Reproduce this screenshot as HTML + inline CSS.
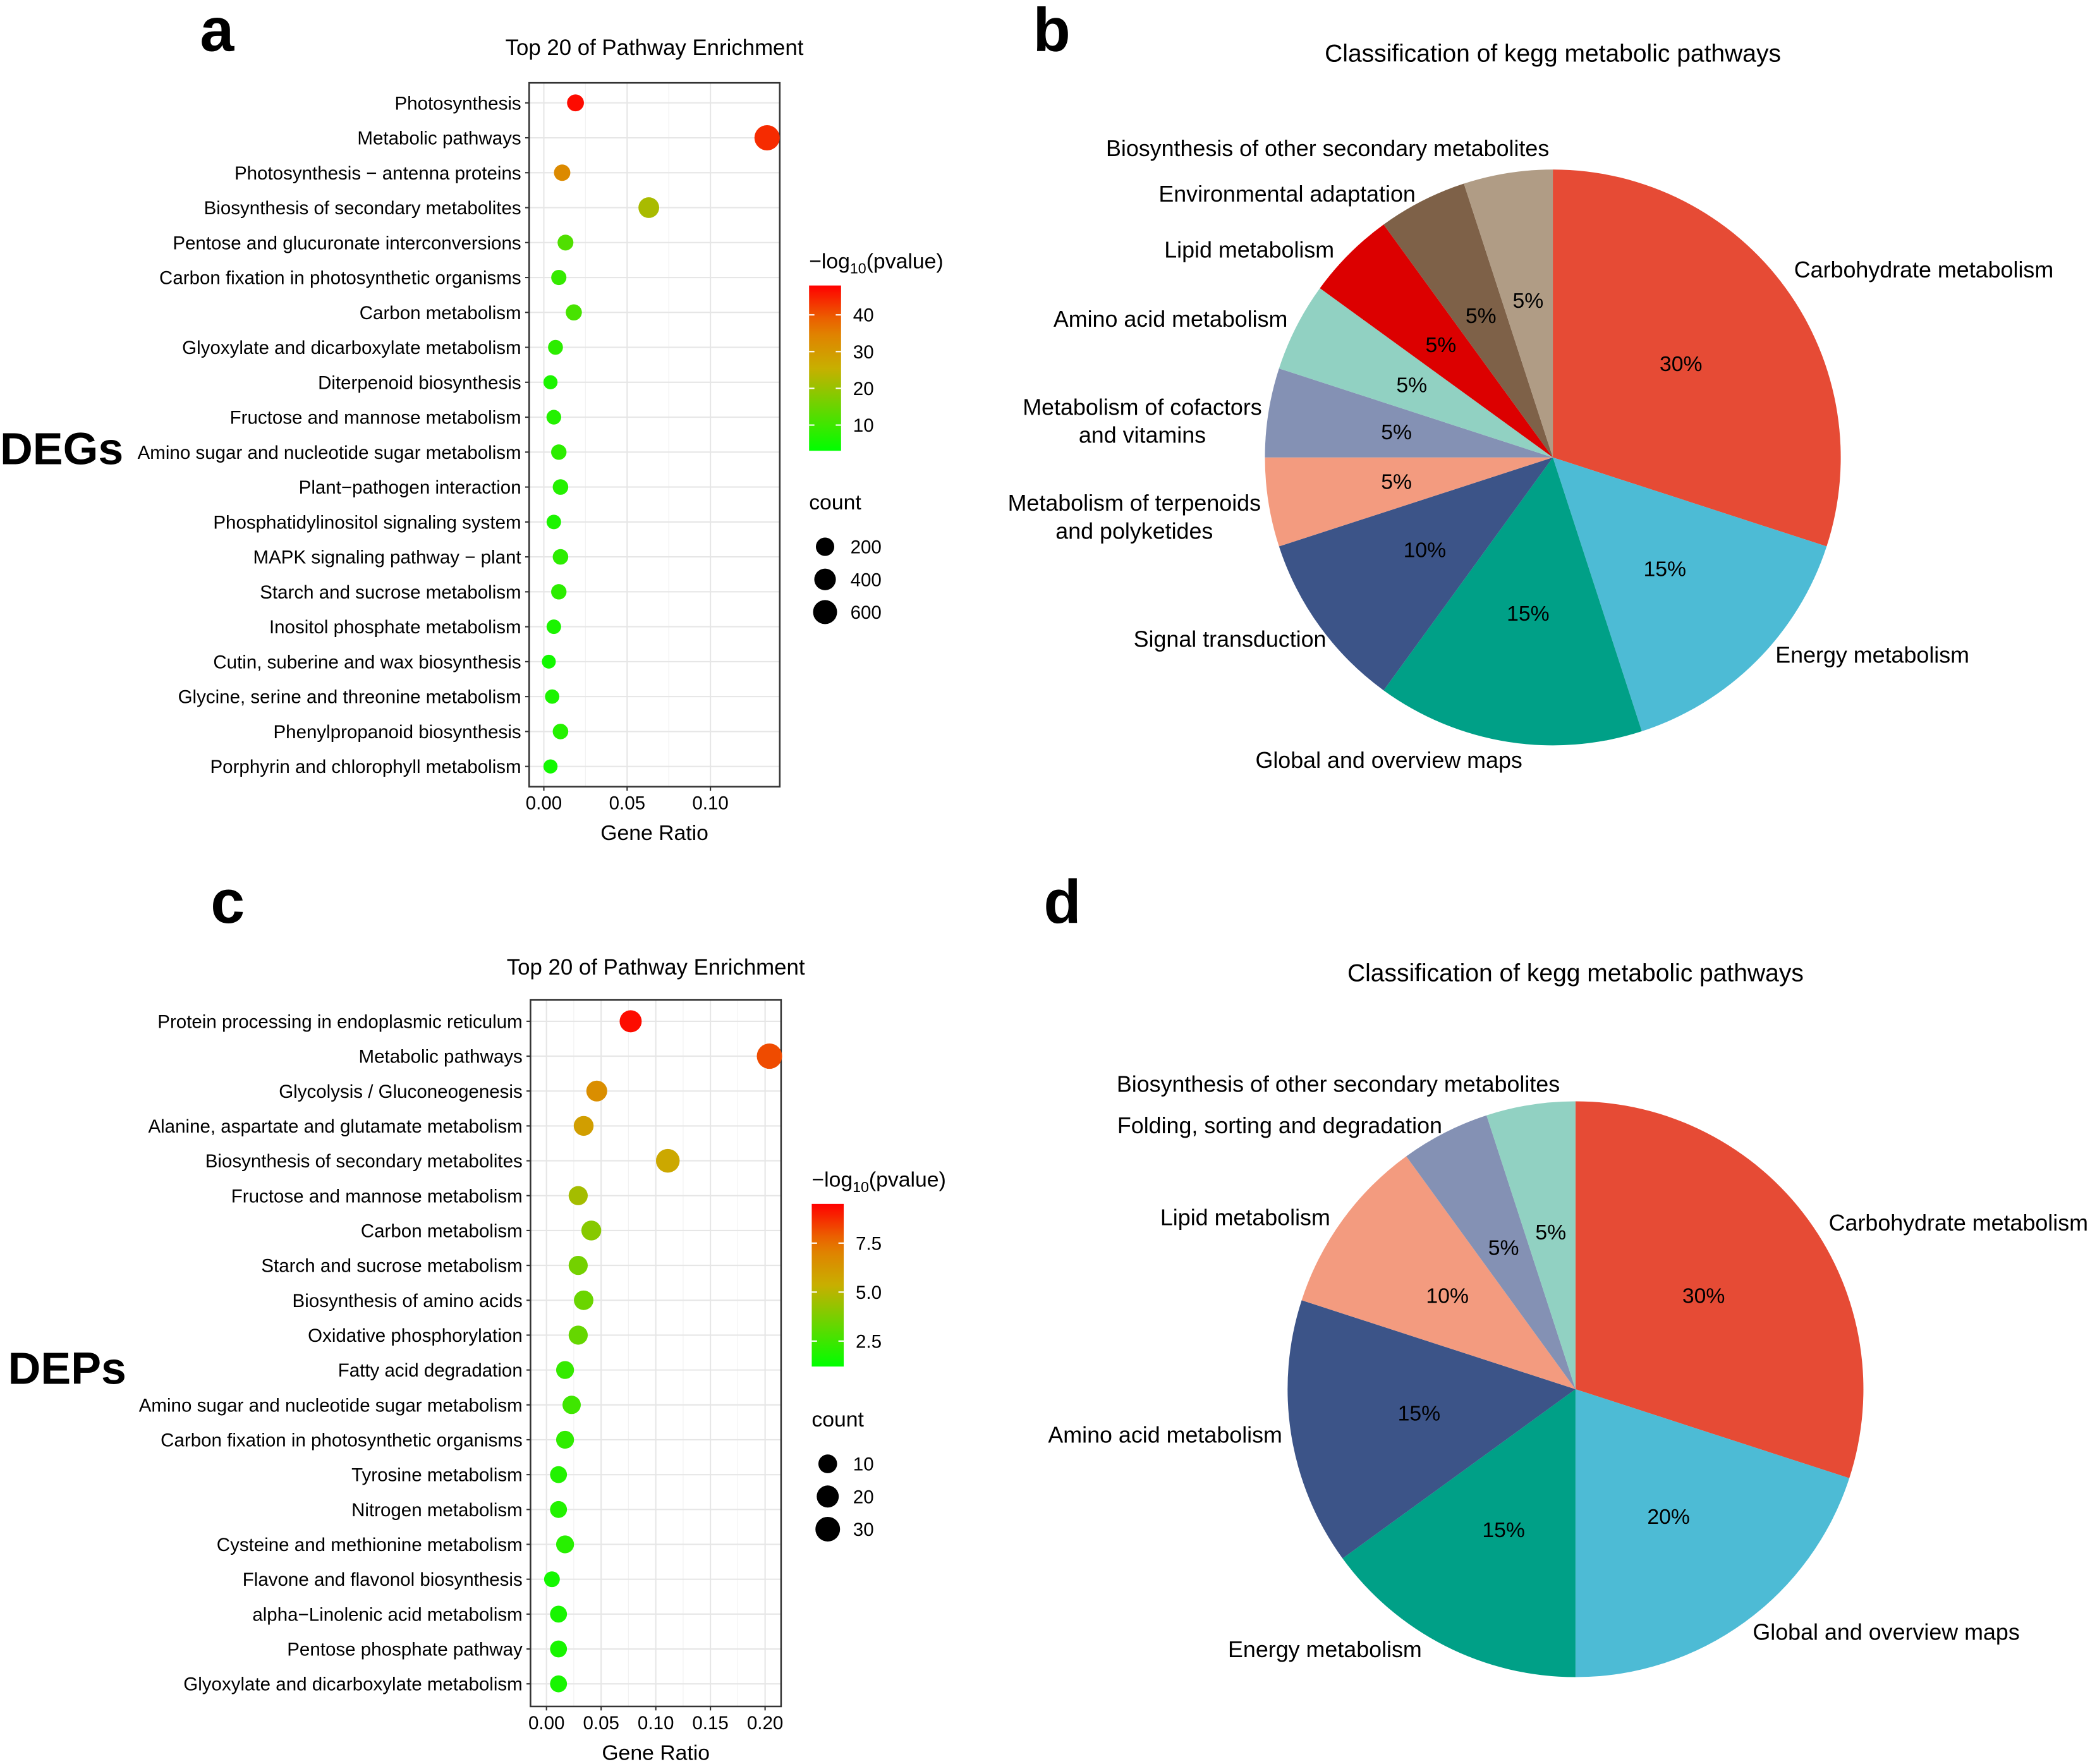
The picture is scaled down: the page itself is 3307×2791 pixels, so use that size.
<!DOCTYPE html>
<html><head><meta charset="utf-8"><style>
html,body{margin:0;padding:0;background:#fff}
svg{display:block;font-family:"Liberation Sans",Arial,sans-serif}
</style></head><body>
<svg id="fig" width="3307" height="2791" viewBox="0 0 1568 1323" xmlns="http://www.w3.org/2000/svg">
<rect width="1568" height="1323" fill="#fff"/>
<g id="root"></g>
</svg>
<script>
// ---------- Panel a data ----------
const aCats=["Photosynthesis  ","Metabolic pathways  ","Photosynthesis − antenna proteins","Biosynthesis of secondary metabolites","Pentose and glucuronate interconversions","Carbon fixation in photosynthetic organisms","Carbon metabolism  ","Glyoxylate and dicarboxylate metabolism","Diterpenoid biosynthesis  ","Fructose and mannose metabolism","Amino sugar and nucleotide sugar metabolism","Plant−pathogen interaction  ","Phosphatidylinositol signaling system","MAPK signaling pathway − plant  ","Starch and sucrose metabolism","Inositol phosphate metabolism","Cutin, suberine and wax biosynthesis","Glycine, serine and threonine metabolism","Phenylpropanoid biosynthesis","Porphyrin and chlorophyll metabolism"];
const aRatio=[0.019,0.134,0.011,0.063,0.013,0.009,0.018,0.007,0.004,0.006,0.009,0.010,0.006,0.010,0.009,0.006,0.003,0.005,0.010,0.004];
const aLogP=[47,44,33,22,12,9,11,8,6,7,8,7,6,8,8,6,5,6,7,5];
const aCount=[130,720,110,340,90,70,100,60,40,55,75,80,50,80,75,50,35,45,80,40];
const aXTicks=[0.00,0.05,0.10];
const aColorTicks=[10,20,30,40];
const aSizeTicks=[200,400,600];
// ---------- Panel c data ----------
const cCats=["Protein processing in endoplasmic reticulum","Metabolic pathways  ","Glycolysis / Gluconeogenesis  ","Alanine, aspartate and glutamate metabolism","Biosynthesis of secondary metabolites","Fructose and mannose metabolism","Carbon metabolism  ","Starch and sucrose metabolism","Biosynthesis of amino acids  ","Oxidative phosphorylation  ","Fatty acid degradation  ","Amino sugar and nucleotide sugar metabolism","Carbon fixation in photosynthetic organisms","Tyrosine metabolism  ","Nitrogen metabolism  ","Cysteine and methionine metabolism","Flavone and flavonol biosynthesis  ","alpha−Linolenic acid metabolism","Pentose phosphate pathway","Glyoxylate and dicarboxylate metabolism"];
const cRatio=[0.077,0.204,0.046,0.034,0.111,0.029,0.041,0.029,0.034,0.029,0.017,0.023,0.017,0.011,0.011,0.017,0.005,0.011,0.011,0.011];
const cLogP=[9.3,8.2,6.6,6.0,5.6,4.6,4.0,3.6,3.4,3.3,2.3,2.5,2.2,1.9,1.9,2.0,1.6,1.7,1.7,1.7];
const cCount=[20,33,16,13,26,11,13,11,12,11,8,9,8,6,6,8,4,6,6,6];
const cXTicks=[0.00,0.05,0.10,0.15,0.20];
const cColorTicks=[2.5,5.0,7.5];
const cSizeTicks=[10,20,30];
// ---------- Pie data ----------
const bLabels=["Carbohydrate metabolism","Energy metabolism","Global and overview maps","Signal transduction","Metabolism of terpenoids\nand polyketides","Metabolism of cofactors\nand vitamins","Amino acid metabolism","Lipid metabolism","Environmental adaptation","Biosynthesis of other secondary metabolites"];
const bValues=[30,15,15,10,5,5,5,5,5,5];
const dLabels=["Carbohydrate metabolism","Global and overview maps","Energy metabolism","Amino acid metabolism","Lipid metabolism","Folding, sorting and degradation","Biosynthesis of other secondary metabolites"];
const dValues=[30,20,15,15,10,5,5];

const NS="http://www.w3.org/2000/svg";
const root=document.getElementById('root');
function el(tag,attrs,parent){const e=document.createElementNS(NS,tag);for(const k in attrs)e.setAttribute(k,attrs[k]);(parent||root).appendChild(e);return e;}
function txt(x,y,s,size,anchor,parent,extra){const t=el('text',Object.assign({x:x,y:y,'font-size':size,'text-anchor':anchor||'start',fill:'#000','xml:space':'preserve'},extra||{}),parent);t.textContent=s;return t;}
function lerp(a,b,t){return a+(b-a)*t;}
function colorFor(v,min,max){let t=Math.max(0,Math.min(1,(v-min)/(max-min)));
 const stops=[[0,[0,255,0]],[0.5,[200,175,0]],[0.75,[230,120,0]],[1,[255,0,0]]];
 for(let i=1;i<stops.length;i++){if(t<=stops[i][0]){const s0=stops[i-1],s1=stops[i];const u=(t-s0[0])/(s1[0]-s0[0]);return 'rgb('+s0[1].map((c,j)=>Math.round(lerp(c,s1[1][j],u))).join(',')+')';}}
 return 'rgb(255,0,0)';}

function dotPlot(cfg){
 const g=el('g',{});
 
 
 const {px0,px1,py0,py1,x0px,xStepPx,xStep,row0,rowStep}=cfg;
 const xs=v=>x0px+v/xStep*xStepPx;
 const ys=i=>row0+i*rowStep;
 const rs=c=>4+5.5*Math.sqrt(c/cfg.sizeMax);
 const t=txt((px0+px1)/2,cfg.titleY,"Top 20 of Pathway Enrichment",16.5,'middle',g);
 
 el('rect',{x:px0,y:py0,width:px1-px0,height:py1-py0,fill:'#fff'},g);
 cfg.xTicks.forEach(v=>{el('line',{x1:xs(v),x2:xs(v),y1:py0,y2:py1,stroke:'#e6e6e6','stroke-width':1},g);});
 for(let k=0;k<cfg.xTicks.length-1;k++){const m=xs((cfg.xTicks[k]+cfg.xTicks[k+1])/2);el('line',{x1:m,x2:m,y1:py0,y2:py1,stroke:'#f2f2f2','stroke-width':0.6},g);}
 cfg.cats.forEach((c,i)=>{el('line',{x1:px0,x2:px1,y1:ys(i),y2:ys(i),stroke:'#e6e6e6','stroke-width':1},g);
  const lab=txt(px0-6,ys(i)+5,c,14,'end',g);
  el('line',{x1:px0-3,x2:px0,y1:ys(i),y2:ys(i),stroke:'#333'},g);});
 el('rect',{x:px0,y:py0,width:px1-px0,height:py1-py0,fill:'none',stroke:'#333','stroke-width':1.2},g);
 cfg.xTicks.forEach(v=>{el('line',{x1:xs(v),x2:xs(v),y1:py1,y2:py1+3,stroke:'#333'},g);
  const l=txt(xs(v),py1+17,v.toFixed(2),14,'middle',g);});
 const xt=txt((px0+px1)/2,py1+40,"Gene Ratio",16,'middle',g);
 cfg.cats.forEach((c,i)=>{const p=el('circle',{cx:xs(cfg.ratio[i]),cy:ys(i),r:rs(cfg.count[i]),fill:colorFor(cfg.logp[i],cfg.cMin,cfg.cMax)},g);
  });
 const lx=cfg.legX, lt=cfg.legY;
 const ct=txt(lx,lt,"−log",16,'start',g);
 const ts=el('tspan',{'font-size':11,dy:4},ct);ts.textContent="10";const ts2=el('tspan',{dy:-4},ct);ts2.textContent="(pvalue)";
 const gid='grad'+cfg.name;const defs=el('defs',{},g);const lg=el('linearGradient',{id:gid,x1:0,y1:1,x2:0,y2:0},defs);
 for(let k=0;k<=10;k++){el('stop',{offset:k/10,'stop-color':colorFor(cfg.cMin+(cfg.cMax-cfg.cMin)*k/10,cfg.cMin,cfg.cMax)},lg);}
 const bt=cfg.barTop,bb=cfg.barBot;
 const bar=el('rect',{x:lx,y:bt,width:24,height:bb-bt,fill:'url(#'+gid+')'},g);
 const cy=v=>bb-(v-cfg.cMin)/(cfg.cMax-cfg.cMin)*(bb-bt);
 cfg.cTicks.forEach(v=>{el('line',{x1:lx,x2:lx+4,y1:cy(v),y2:cy(v),stroke:'#fff'},g);el('line',{x1:lx+20,x2:lx+24,y1:cy(v),y2:cy(v),stroke:'#fff'},g);
  const l=txt(lx+33,cy(v)+5,(v%1||cfg.cDec?v.toFixed(1):String(v)),14,'start',g);});
 const st=txt(lx,cfg.sizeY,"count",16,'start',g);
 cfg.sTicks.forEach((v,k)=>{const yy=cfg.sizeY+28+k*24.5;const c=el('circle',{cx:lx+12,cy:yy,r:rs(v),fill:'#000'},g);
  const l=txt(lx+31,yy+5,String(v),14,'start',g);});
}

dotPlot({name:'dot-plot-a',cats:aCats,ratio:aRatio,logp:aLogP,count:aCount,xTicks:aXTicks,cTicks:aColorTicks,sTicks:aSizeTicks,
 px0:397,px1:585,py0:62,py1:590,x0px:408,xStepPx:62.5,xStep:0.05,row0:77,rowStep:26.2,titleY:41,
 sizeMax:720,cMin:3,cMax:48,legX:607,legY:201,barTop:214,barBot:338,sizeY:382});
dotPlot({name:'dot-plot-c',cats:cCats,ratio:cRatio,logp:cLogP,count:cCount,xTicks:cXTicks,cTicks:cColorTicks,sTicks:cSizeTicks,cDec:true,
 px0:398,px1:586,py0:750,py1:1280,x0px:410,xStepPx:41,xStep:0.05,row0:766,rowStep:26.16,titleY:731,
 sizeMax:33,cMin:1.2,cMax:9.5,legX:609,legY:890,barTop:903,barBot:1025,sizeY:1070});

[["a",150,38],["b",775,38],["c",158,692],["d",783,692]].forEach(([s,x,y])=>{const t=txt(x,y,s,46,'start',root,{'font-weight':'bold'});});
[["DEGs",0,348],["DEPs",6,1038]].forEach(([s,x,y])=>{const t=txt(x,y,s,34,'start',root,{'font-weight':'bold'});});

const pieColors10=["#E64B35","#4DBBD5","#00A087","#3C5488","#F39B7F","#8491B4","#91D1C2","#DC0000","#7E6148","#B09C85"];
const pieColors7=["#E64B35","#4DBBD5","#00A087","#3C5488","#F39B7F","#8491B4","#91D1C2"];
function pie(cfg){
 const g=el('g',{});
 const t=txt(cfg.cx,cfg.titleY,"Classification of kegg metabolic pathways",18.5,'middle',g);
 const tot=cfg.values.reduce((a,b)=>a+b,0);let acc=0;const R=cfg.r;
 cfg.values.forEach((v,i)=>{const a0=acc/tot*2*Math.PI,a1=(acc+v)/tot*2*Math.PI;acc+=v;
  const p=(a)=>[cfg.cx+R*Math.sin(a),cfg.cy-R*Math.cos(a)];const[p0x,p0y]=p(a0),[p1x,p1y]=p(a1);
  const s=el('path',{d:`M${cfg.cx},${cfg.cy}L${p0x},${p0y}A${R},${R} 0 ${a1-a0>Math.PI?1:0} 1 ${p1x},${p1y}Z`,fill:cfg.colors[i]},g);
  
  const am=(a0+a1)/2,rr=R*0.55;const pl=txt(cfg.cx+rr*Math.sin(am),cfg.cy-rr*Math.cos(am)+5,Math.round(v/tot*100)+"%",16,'middle',g);
  
  const [lx,ly,anc]=cfg.labelPos[i];const lines=cfg.labels[i].split("\n");
  lines.forEach((ln,k)=>{const l=txt(lx,ly+k*21,ln,17,anc,g);});
 });
}
pie({name:'pie-b',cx:1165,cy:343,r:216,titleY:46,values:bValues,labels:bLabels,colors:pieColors10,
 labelPos:[[1346,208,'start'],[1332,497,'start'],[1042,576,'middle'],[995,485,'end'],[851,383,'middle'],[857,311,'middle'],[966,245,'end'],[1001,193,'end'],[1062,151,'end'],[996,117,'middle']]});
pie({name:'pie-d',cx:1182,cy:1042,r:216,titleY:736,values:dValues,labels:dLabels,colors:pieColors7,
 labelPos:[[1372,923,'start'],[1315,1230,'start'],[994,1243,'middle'],[962,1082,'end'],[998,919,'end'],[1082,850,'end'],[1004,819,'middle']]});
</script>
</body></html>
